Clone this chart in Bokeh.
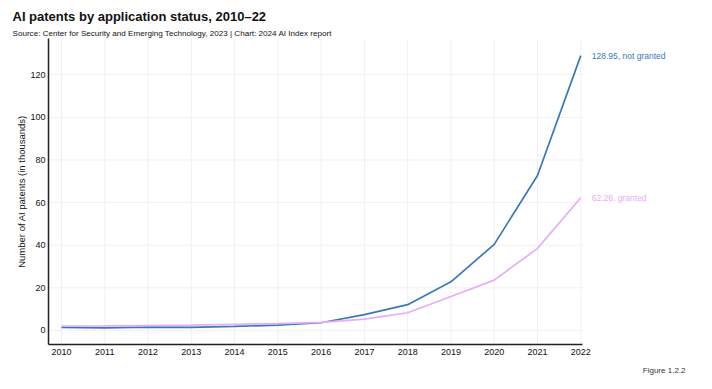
from bokeh.plotting import figure
from bokeh.models import Range1d, FixedTicker, Label, Title
from bokeh.embed import file_html
from bokeh.resources import INLINE

years = [2010, 2011, 2012, 2013, 2014, 2015, 2016, 2017, 2018, 2019, 2020, 2021, 2022]
not_granted = [1.4, 1.2, 1.6, 1.4, 1.9, 2.5, 3.6, 7.4, 12.1, 22.8, 40.4, 72.7, 128.95]
granted = [2.0, 2.1, 2.3, 2.5, 2.9, 3.2, 3.8, 5.3, 8.3, 15.9, 23.6, 38.5, 62.26]
y_ticks = [0, 20, 40, 60, 80, 100, 120]

title = "AI patents by application status, 2010–22"
subtitle = "Source: Center for Security and Emerging Technology, 2023 | Chart: 2024 AI Index report"
y_label = "Number of AI patents (in thousands)"
fig_note = "Figure 1.2.2"

BLUE = "#3a78bd"
PINK = "#e5aef8"
FONT = "Liberation Sans"
GRID = "#f0f0f0"

x0, x_end, x1 = 2009.7, 2022.05, 2024.42
y0, y1 = -6.6, 137

p = figure(width=696, height=381, title=None, output_backend="svg", toolbar_location=None,
           x_range=Range1d(x0, x1), y_range=Range1d(y0, y1),
           min_border_left=48, min_border_right=11, min_border_top=38, min_border_bottom=37)
p.outline_line_color = None
p.background_fill_color = "white"
p.border_fill_color = "white"

# grid (limited to the data region)
p.xgrid.visible = False
p.ygrid.visible = False
p.segment(x0=years, x1=years, y0=y0, y1=y1, line_color=GRID, line_width=1)
p.segment(x0=x0, x1=x_end, y0=y_ticks, y1=y_ticks, line_color=GRID, line_width=1)

p.line(years, not_granted, line_color=BLUE, line_width=1.7)
p.line(years, granted, line_color=PINK, line_width=1.7)

p.xaxis.ticker = FixedTicker(ticks=years)
p.yaxis.ticker = FixedTicker(ticks=y_ticks)
p.xaxis.bounds = (x0, x_end)
for ax in (p.xaxis[0], p.yaxis[0]):
    ax.major_tick_line_color = None
    ax.minor_tick_line_color = None
    ax.major_tick_out = 0
    ax.major_tick_in = 0
    ax.minor_tick_out = 0
    ax.minor_tick_in = 0
    ax.axis_line_color = "#222222"
    ax.axis_line_width = 1.5
    ax.major_label_text_font = FONT
    ax.major_label_text_font_size = "9px"
    ax.major_label_text_color = "#111111"
p.xaxis.major_label_standoff = 4
p.yaxis.major_label_standoff = 3
p.yaxis.axis_label = y_label
p.yaxis.axis_label_text_font = FONT
p.yaxis.axis_label_text_font_size = "9.5px"
p.yaxis.axis_label_text_font_style = "normal"
p.yaxis.axis_label_text_color = "#111111"
p.yaxis.axis_label_standoff = 0

p.add_layout(Label(x=years[-1], y=not_granted[-1], x_offset=11,
                   text=f"{not_granted[-1]:.2f}, not granted", text_color=BLUE,
                   text_font=FONT, text_font_size="8.5px", text_baseline="middle"))
p.add_layout(Label(x=years[-1], y=granted[-1], x_offset=11,
                   text=f"{granted[-1]:.2f}, granted", text_color=PINK,
                   text_font=FONT, text_font_size="8.5px", text_baseline="middle"))

p.add_layout(Title(text=subtitle, text_font=FONT, text_font_size="8.1px",
                   text_font_style="normal", text_color="#111111",
                   align="left", offset=-36, standoff=2), "above")
p.add_layout(Title(text=title, text_font=FONT, text_font_size="13px",
                   text_font_style="bold", text_color="#111111",
                   align="left", offset=-36, standoff=3), "above")
p.add_layout(Title(text=fig_note, text_font=FONT, text_font_size="8px",
                   text_font_style="normal", text_color="#333333",
                   align="right", offset=0, standoff=12), "below")

open("out.html", "w").write(file_html(p, INLINE))
